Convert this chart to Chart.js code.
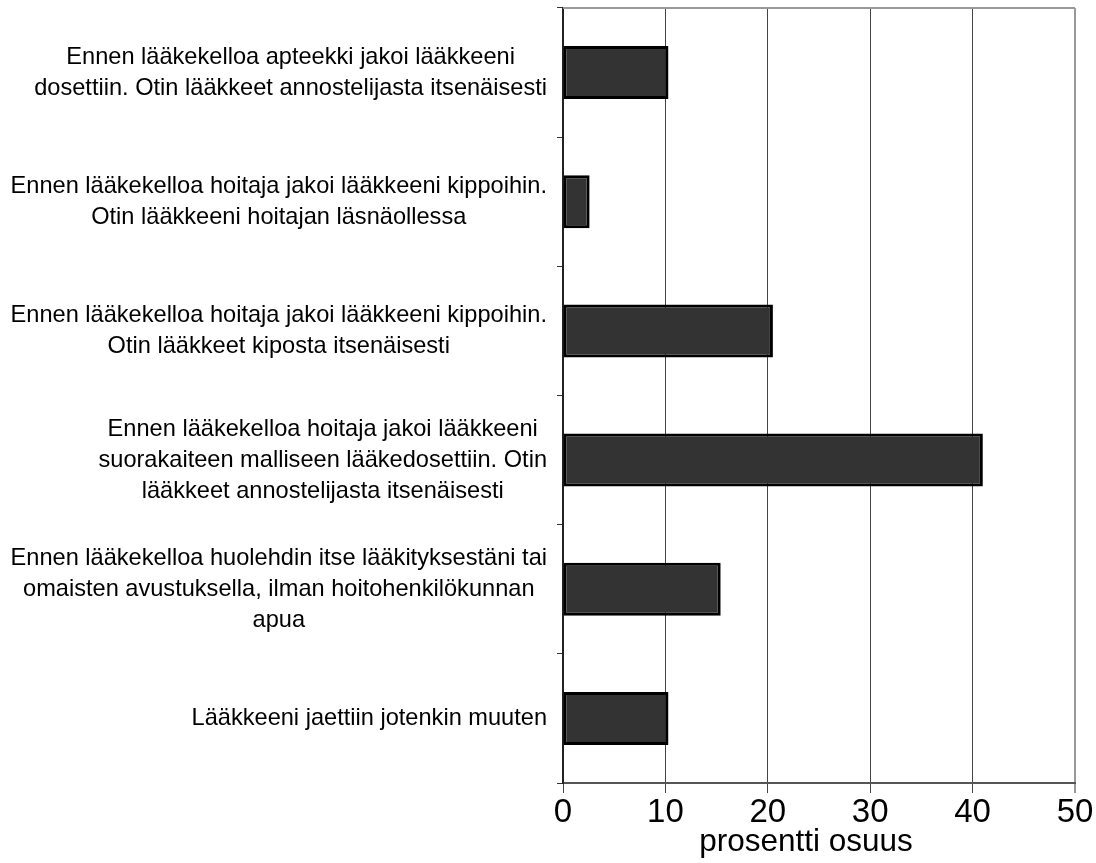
<!DOCTYPE html>
<html>
<head>
<meta charset="utf-8">
<script src="https://cdn.jsdelivr.net/npm/chart.js@4"></script>
<style>
  html, body { margin: 0; padding: 0; background: #fff; }
  #wrap { width: 1096px; height: 863px; }
</style>
</head>
<body>
<div id="wrap"><canvas id="c" width="1096" height="863"></canvas></div>
<script>
// Answer categories (one array of lines per category)
const categories = [
  ['Ennen lääkekelloa apteekki jakoi lääkkeeni', 'dosettiin. Otin lääkkeet annostelijasta itsenäisesti'],
  ['Ennen lääkekelloa hoitaja jakoi lääkkeeni kippoihin.', 'Otin lääkkeeni hoitajan läsnäollessa'],
  ['Ennen lääkekelloa hoitaja jakoi lääkkeeni kippoihin.', 'Otin lääkkeet kiposta itsenäisesti'],
  ['Ennen lääkekelloa hoitaja jakoi lääkkeeni', 'suorakaiteen malliseen lääkedosettiin. Otin', 'lääkkeet annostelijasta itsenäisesti'],
  ['Ennen lääkekelloa huolehdin itse lääkityksestäni tai', 'omaisten avustuksella, ilman hoitohenkilökunnan', 'apua'],
  ['Lääkkeeni jaettiin jotenkin muuten']
];
// Percentage share per category
const shares = [10.3, 2.6, 20.5, 41.0, 15.4, 10.3];
// Value axis
const xTicks = [0, 10, 20, 30, 40, 50];
const xTitle = 'prosentti osuus';

const FONT = "'Liberation Sans', Arial, sans-serif";

// Category labels: each block right-aligned to the axis, its lines centred within the block
const categoryLabels = {
  id: 'categoryLabels',
  afterDraw(chart) {
    const ctx = chart.ctx;
    const ys = chart.scales.y;
    const rightEdge = ys.right - 16;
    const lineH = 31;
    ctx.save();
    ctx.font = '23.6px ' + FONT;
    ctx.fillStyle = '#000';
    ctx.textAlign = 'center';
    ctx.textBaseline = 'middle';
    categories.forEach((lines, i) => {
      const cy = ys.getPixelForValue(i);
      const w = Math.max(...lines.map(l => ctx.measureText(l).width));
      const cx = rightEdge - w / 2;
      lines.forEach((l, j) => {
        ctx.fillText(l, cx, cy + (j - (lines.length - 1) / 2) * lineH);
      });
    });
    // axis title
    ctx.font = '31.5px ' + FONT;
    ctx.fillText(xTitle, 806, 842);
    ctx.restore();
  }
};

// Grey frame along the top of the plot area
const plotFrame = {
  id: 'plotFrame',
  afterDatasetsDraw(chart) {
    const { ctx, chartArea: a } = chart;
    ctx.save();
    ctx.strokeStyle = '#999';
    ctx.lineWidth = 2;
    ctx.beginPath();
    ctx.moveTo(a.left, a.top);
    ctx.lineTo(a.right, a.top);
    ctx.stroke();
    ctx.restore();
  }
};

new Chart(document.getElementById('c'), {
  type: 'bar',
  data: {
    labels: categories,
    datasets: [{
      data: shares,
      backgroundColor: '#333333',
      borderColor: '#000000',
      borderWidth: 3,
      borderSkipped: false,
      barPercentage: 0.41,
      categoryPercentage: 1.0
    }]
  },
  options: {
    indexAxis: 'y',
    responsive: false,
    devicePixelRatio: 1,
    animation: false,
    layout: { padding: { top: 8, right: 21, left: 0, bottom: 0 } },
    plugins: { legend: { display: false }, tooltip: { enabled: false } },
    scales: {
      x: {
        type: 'linear',
        min: xTicks[0],
        max: xTicks[xTicks.length - 1],
        afterBuildTicks(scale) { scale.ticks = xTicks.map(v => ({ value: v })); },
        afterFit(scale) { scale.height = 80; },
        ticks: {
          color: '#000',
          font: { family: FONT, size: 33 },
          padding: 0,
          maxRotation: 0
        },
        grid: {
          color: c => (c.tick && c.tick.value === 50) ? '#999' : '#444',
          lineWidth: c => (c.tick && c.tick.value === 50) ? 2 : 1,
          tickLength: 10,
          drawTicks: true
        },
        border: { display: true, color: '#555', width: 2 }
      },
      y: {
        type: 'category',
        offset: true,
        afterFit(scale) { scale.width = 563; },
        ticks: { display: false },
        grid: {
          drawOnChartArea: false,
          drawTicks: true,
          tickLength: 6,
          color: '#333',
          offset: true
        },
        border: { display: true, color: '#222', width: 2 }
      }
    }
  },
  plugins: [categoryLabels, plotFrame]
});
</script>
</body>
</html>
